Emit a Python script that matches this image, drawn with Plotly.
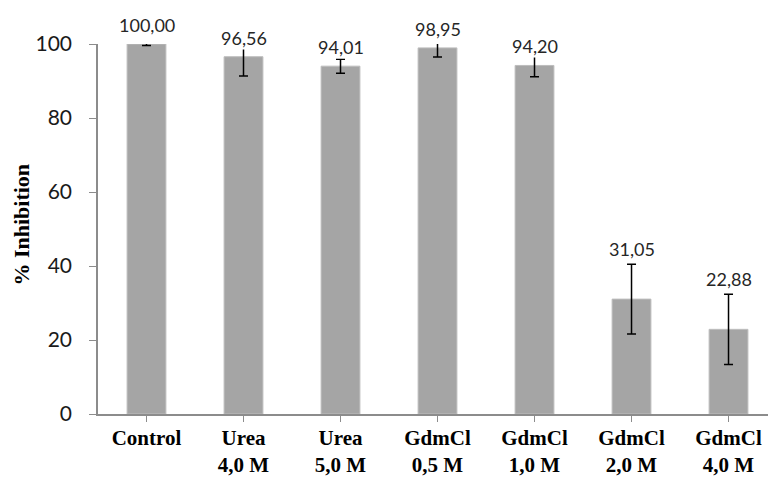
import plotly.graph_objects as go

# Inhibition after denaturant treatment (mean ± SD)
categories = ["Control", "Urea<br>4,0 M", "Urea<br>5,0 M", "GdmCl<br>0,5 M",
              "GdmCl<br>1,0 M", "GdmCl<br>2,0 M", "GdmCl<br>4,0 M"]
inhibition = [100.00, 96.56, 94.01, 98.95, 94.20, 31.05, 22.88]
std_dev = [0.4, 5.2, 1.9, 2.45, 3.05, 9.4, 9.5]
y_ticks = [0, 20, 40, 60, 80, 100]

BAR_GREY = "#a5a5a5"
AXIS_GREY = "#8c8c8c"

fig = go.Figure()
fig.add_trace(go.Bar(
    x=list(range(len(categories))),
    y=inhibition,
    width=0.40,
    marker=dict(color=BAR_GREY, line=dict(color="#bdbdbd", width=1)),
    error_y=dict(type="data", array=std_dev, visible=True,
                 color="black", thickness=1.5, width=4.5),
    hoverinfo="skip",
))

# value labels: above the error bar when it is large, else above the bar
for i, (v, e) in enumerate(zip(inhibition, std_dev)):
    if e > 6:
        base, shift = v + e, 3
    else:
        base, shift = v, 7
    fig.add_annotation(
        x=i, y=base, text=f"{v:.2f}".replace(".", ","),
        showarrow=False, yanchor="bottom", yshift=shift,
        font=dict(family="Lato", size=18, color="#262626"),
        bgcolor="white", borderpad=0,
    )

# y-axis title, rotated, left of the tick labels
fig.add_annotation(
    xref="paper", yref="paper", x=0, y=0.512, xanchor="center", yanchor="middle",
    xshift=-76, textangle=-90, showarrow=False,
    text="<b>% Inhibition</b>",
    font=dict(family="Liberation Serif", size=22, color="black"),
)

fig.update_layout(
    width=768, height=480,
    margin=dict(l=98, r=0, t=44, b=66),
    paper_bgcolor="white", plot_bgcolor="white",
    showlegend=False,
)
fig.update_xaxes(
    range=[-0.5, 6.407], automargin=False,
    tickmode="array", tickvals=list(range(len(categories))), ticktext=categories,
    tickson="boundaries", ticks="outside", ticklen=6, tickcolor=AXIS_GREY,
    showline=True, linecolor=AXIS_GREY, linewidth=1.5,
    showgrid=False, zeroline=False,
    tickfont=dict(family="Liberation Serif", size=21, color="black",
                  weight="bold"),
    ticklabelstandoff=-2,
)
fig.update_yaxes(
    range=[0, 100], automargin=False,
    tickmode="array", tickvals=y_ticks,
    ticks="outside", ticklen=7, tickcolor=AXIS_GREY,
    showline=True, linecolor=AXIS_GREY, linewidth=1.5,
    showgrid=False, zeroline=False,
    tickfont=dict(family="Lato", size=21, color="#1a1a1a"),
    ticklabelstandoff=13,
)

fig.write_html("out.html")
